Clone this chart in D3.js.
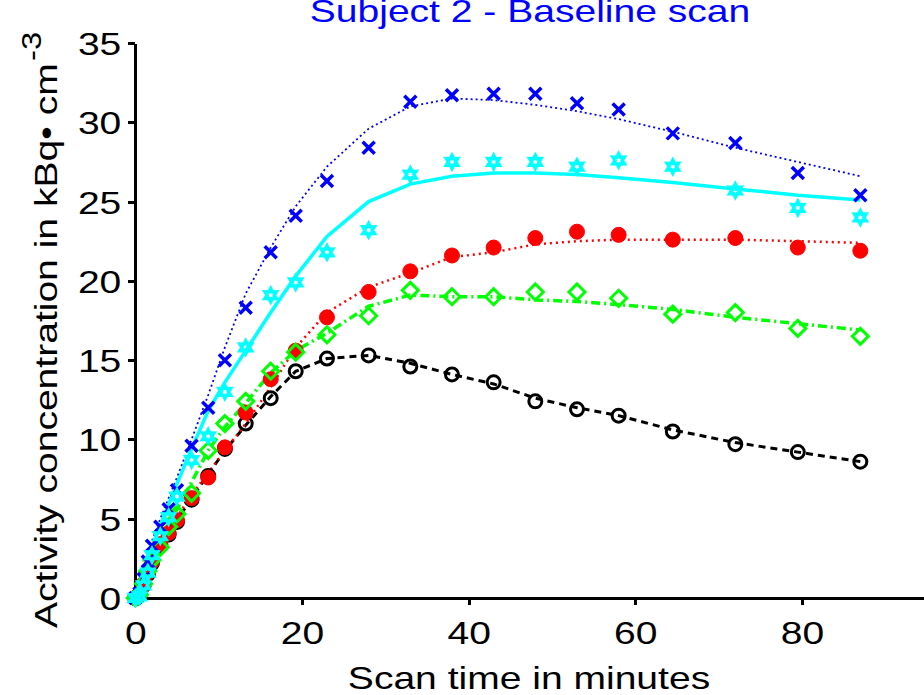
<!DOCTYPE html>
<html lang="en">

<head>
    <meta charset="UTF-8">
    <title>Subject 2 - Baseline scan</title>
    <style>
        body {
            margin: 0;
            background: #fff;
        }

        text {
            font-family: "Liberation Sans", Arial, sans-serif;
        }

        .axis path,
        .axis line {
            stroke: #000;
            stroke-width: 3px;
            shape-rendering: crispEdges;
        }

        .axis text {
            font-size: 32px;
            fill: #000;
        }

        .fit {
            fill: none;
        }
    </style>
</head>

<body>
    <script src="https://cdn.jsdelivr.net/npm/d3@7"></script>
    <script>
        // frame mid times (min)
        const times = [0, 0.5, 1, 1.5, 2, 3, 4, 5, 6.75, 8.75, 10.75, 13.25, 16.25, 19.25, 23, 28, 33, 38, 43, 48, 53, 58, 64.5, 72, 79.5, 87];

        const blueObs = [0, 0.3, 1.2, 2.3, 3.3, 4.5, 5.6, 6.8, 9.6, 12.0, 15.0, 18.3, 21.8, 24.1, 26.3, 28.4, 31.3, 31.7, 31.8, 31.8, 31.2, 30.8, 29.3, 28.7, 26.8, 25.4];
        const blueFit = [0, 0.5, 1.5, 2.6, 3.6, 5.0, 6.3, 7.6, 10.0, 12.8, 15.8, 19.2, 22.1, 24.7, 27.2, 29.6, 31.0, 31.5, 31.4, 31.1, 30.7, 30.2, 29.4, 28.4, 27.5, 26.6];

        const cyanObs = [0, 0.1, 0.8, 1.6, 2.7, 3.9, 5.1, 6.4, 8.7, 10.2, 13.0, 15.8, 19.1, 19.9, 21.8, 23.2, 26.7, 27.5, 27.5, 27.5, 27.2, 27.6, 27.2, 25.7, 24.6, 24.0];
        const cyanFit = [0, 0.3, 1.2, 2.2, 3.2, 4.6, 5.9, 7.2, 9.4, 11.8, 13.6, 15.6, 18.0, 20.3, 22.8, 25.0, 26.1, 26.6, 26.8, 26.8, 26.7, 26.5, 26.2, 25.8, 25.4, 25.1];

        const redObs = [0, 0.2, 0.9, 1.6, 2.3, 3.4, 4.1, 4.9, 6.3, 7.6, 9.5, 11.7, 13.8, 15.6, 17.7, 19.3, 20.6, 21.6, 22.1, 22.7, 23.1, 22.9, 22.6, 22.7, 22.1, 21.9];
        const redFit = [0, 0.3, 1.0, 1.7, 2.4, 3.4, 4.3, 5.1, 6.5, 7.9, 9.3, 11.0, 13.3, 15.8, 18.0, 19.6, 20.5, 21.5, 21.8, 22.3, 22.5, 22.6, 22.6, 22.6, 22.5, 22.4];

        const greenObs = [0, 0.2, 0.9, 1.7, 2.4, 3.2, 4.5, 5.3, 6.6, 9.3, 11.0, 12.4, 14.3, 15.5, 16.6, 17.8, 19.4, 19.0, 19.0, 19.3, 19.3, 18.9, 17.9, 18.0, 17.0, 16.5];
        const greenFit = [0, 0.3, 1.0, 1.8, 2.6, 3.6, 4.7, 5.6, 7.3, 9.3, 10.8, 12.3, 14.2, 15.6, 16.7, 18.4, 19.1, 19.0, 19.0, 18.8, 18.7, 18.5, 18.2, 17.7, 17.3, 16.9];

        const blackObs = [0, 0.2, 0.8, 1.5, 2.2, 3.3, 4.0, 4.8, 6.2, 7.7, 9.4, 11.0, 12.6, 14.3, 15.1, 15.3, 14.6, 14.1, 13.6, 12.4, 11.9, 11.5, 10.5, 9.7, 9.2, 8.6];
        const blackFit = [0, 0.3, 0.9, 1.6, 2.3, 3.3, 4.1, 4.9, 6.3, 7.8, 9.3, 10.9, 12.7, 14.3, 15.1, 15.3, 14.8, 14.1, 13.5, 12.6, 12.0, 11.5, 10.6, 9.8, 9.2, 8.6];

        const xTicks = [0, 20, 40, 60, 80];
        const yTicks = [0, 5, 10, 15, 20, 25, 30, 35];

        const width = 924;
        const height = 695;
        const stretch = 1.22; // text looks horizontally widened

        const xScale = d3.scaleLinear().domain([0, 95]).range([135.3, 927]);
        const yScale = d3.scaleLinear().domain([0, 35]).range([598, 43]);

        const svg = d3.select('body')
            .append('svg')
            .attr('width', width)
            .attr('height', height);

        // axes
        const xAxis = svg.append('g')
            .attr('class', 'axis')
            .attr('transform', `translate(0, ${yScale(0)})`)
            .call(d3.axisBottom(xScale).tickValues(xTicks).tickSize(7).tickSizeOuter(0));
        xAxis.selectAll('text')
            .attr('y', 0)
            .attr('dy', 0)
            .attr('transform', `translate(0, 46) scale(${stretch}, 1)`);

        const yAxis = svg.append('g')
            .attr('class', 'axis')
            .attr('transform', `translate(${xScale(0)}, 0)`)
            .call(d3.axisLeft(yScale).tickValues(yTicks).tickSize(7).tickSizeOuter(0));
        yAxis.selectAll('text')
            .attr('x', 0)
            .attr('dy', '0.36em')
            .attr('transform', `translate(-14, 0) scale(${stretch}, 1)`);

        // series: fit line + observed markers
        const markers = {
            circle: r => `M${r},0A${r},${r} 0 1,1 ${-r},0A${r},${r} 0 1,1 ${r},0Z`,
            diamond: r => `M0,${-r}L${r},0L0,${r}L${-r},0Z`,
            cross: r => `M${-r},${-r}L${r},${r}M${-r},${r}L${r},${-r}`,
            hexagram: r => {
                const pts = d3.range(12).map(i => {
                    const a = Math.PI / 6 * i - Math.PI / 2;
                    const rr = i % 2 ? r * 0.55 : r;
                    return [rr * Math.cos(a), rr * Math.sin(a)];
                });
                return 'M' + pts.join('L') + 'Z';
            }
        };

        const series = [
            { obs: blackObs, fit: blackFit, color: '#000000', dash: '7,5', lw: 3, marker: 'circle', size: 6.5, fill: 'none', mw: 3 },
            { obs: redObs, fit: redFit, color: '#ff0000', dash: '2,4', lw: 2.5, marker: 'circle', size: 7.5, fill: '#ff0000', mw: 1 },
            { obs: greenObs, fit: greenFit, color: '#00ff00', dash: '9,4,2,4', lw: 3.5, marker: 'diamond', size: 8, fill: 'none', mw: 3 },
            { obs: blueObs, fit: blueFit, color: '#0000ff', dash: '2,3', lw: 1.8, marker: 'cross', size: 6, fill: 'none', mw: 3.5 },
            { obs: cyanObs, fit: cyanFit, color: '#00ffff', dash: null, lw: 3.5, marker: 'hexagram', size: 6.5, fill: 'none', mw: 3.5 }
        ];

        const line = d3.line()
            .x(d => xScale(d[0]))
            .y(d => yScale(d[1]));

        series.forEach(s => {
            svg.append('path')
                .datum(times.map((t, i) => [t, s.fit[i]]))
                .attr('class', 'fit')
                .attr('stroke', s.color)
                .attr('stroke-width', s.lw)
                .attr('stroke-dasharray', s.dash)
                .attr('d', line);
        });

        series.forEach(s => {
            svg.append('g')
                .selectAll('path')
                .data(times.map((t, i) => [t, s.obs[i]]))
                .enter().append('path')
                .attr('transform', d => `translate(${xScale(d[0])}, ${yScale(d[1])})`)
                .attr('d', markers[s.marker](s.size))
                .attr('fill', s.fill)
                .attr('stroke', s.color)
                .attr('stroke-width', s.mw);
        });

        // labels
        svg.append('text')
            .attr('transform', `translate(530, 22) scale(${stretch}, 1)`)
            .attr('text-anchor', 'middle')
            .attr('font-size', 32)
            .attr('fill', '#0000ff')
            .text('Subject 2 - Baseline scan');

        svg.append('text')
            .attr('transform', `translate(529, 689) scale(${stretch}, 1)`)
            .attr('text-anchor', 'middle')
            .attr('font-size', 32)
            .text('Scan time in minutes');

        const yLabel = svg.append('text')
            .attr('transform', `translate(57, 628) rotate(-90) scale(${stretch}, 1)`)
            .attr('text-anchor', 'start')
            .attr('font-size', 32);
        yLabel.append('tspan').text('Activity concentration in kBq\u2022 cm');
        yLabel.append('tspan')
            .attr('dx', 2)
            .attr('dy', -16)
            .attr('font-size', 27)
            .text('-3');
    </script>
</body>

</html>
